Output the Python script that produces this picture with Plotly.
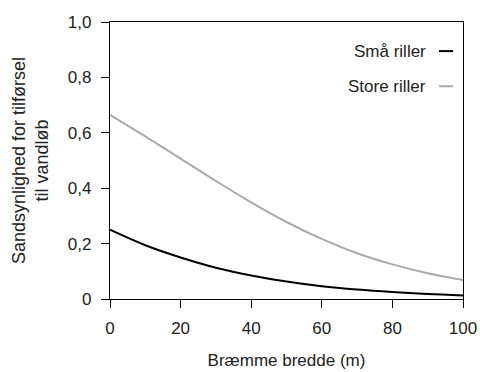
import plotly.graph_objects as go

bredde = [0, 10, 20, 30, 40, 50, 60, 70, 80, 90, 100]
smaa_riller = [0.250, 0.194, 0.150, 0.113, 0.085, 0.063, 0.046, 0.034, 0.025, 0.018, 0.013]
store_riller = [0.665, 0.587, 0.507, 0.426, 0.349, 0.278, 0.217, 0.165, 0.125, 0.093, 0.069]

y_tickvals = [0, 0.2, 0.4, 0.6, 0.8, 1.0]
y_ticktext = ["0", "0,2", "0,4", "0,6", "0,8", "1,0"]
x_tickvals = [0, 20, 40, 60, 80, 100]

series_names = ["Små riller", "Store riller"]
series_colors = ["#000000", "#aaaaaa"]

FONT = "Liberation Sans, Arial, sans-serif"
TXT = "#222222"

fig = go.Figure()
for name, vals, col in zip(series_names, [smaa_riller, store_riller], series_colors):
    fig.add_trace(go.Scatter(x=bredde, y=vals, mode="lines", name=name,
                             line=dict(color=col, width=2, shape="spline"),
                             showlegend=False))

# legend drawn manually: text left of the line sample
leg_y = [0.895, 0.768]
for name, col, yy in zip(series_names, series_colors, leg_y):
    fig.add_annotation(x=0.901, y=yy, xref="paper", yref="paper", text=name,
                       showarrow=False, xanchor="right", yanchor="middle",
                       font=dict(family=FONT, size=17, color=TXT))
    fig.add_shape(type="line", xref="paper", yref="paper", x0=0.932, x1=0.972,
                  y0=yy, y1=yy, line=dict(color=col, width=2))

fig.update_layout(
    width=480, height=372,
    margin=dict(l=110, r=17, t=22, b=73),
    paper_bgcolor="white", plot_bgcolor="white",
    font=dict(family=FONT, size=17, color=TXT),
    xaxis=dict(range=[0, 100], tickvals=x_tickvals, ticks="outside", ticklen=8,
               tickcolor="black", tickwidth=1.3, automargin=False,
               showline=True, linecolor="black", linewidth=1.3, mirror=True,
               showgrid=False, zeroline=False, ticklabelstandoff=5,
               title=dict(text="Bræmme bredde (m)", standoff=17,
                          font=dict(size=17))),
    yaxis=dict(range=[0, 1], tickvals=y_tickvals, ticktext=y_ticktext,
               ticks="outside", ticklen=8, tickcolor="black", tickwidth=1.3,
               showline=True, linecolor="black", linewidth=1.3, mirror=True,
               showgrid=False, zeroline=False, ticklabelstandoff=6,
               automargin=False,
               title=dict(text="Sandsynlighed for tilførsel<br>til vandløb",
                          standoff=14, font=dict(size=18))),
)

fig.write_html("out.html")
